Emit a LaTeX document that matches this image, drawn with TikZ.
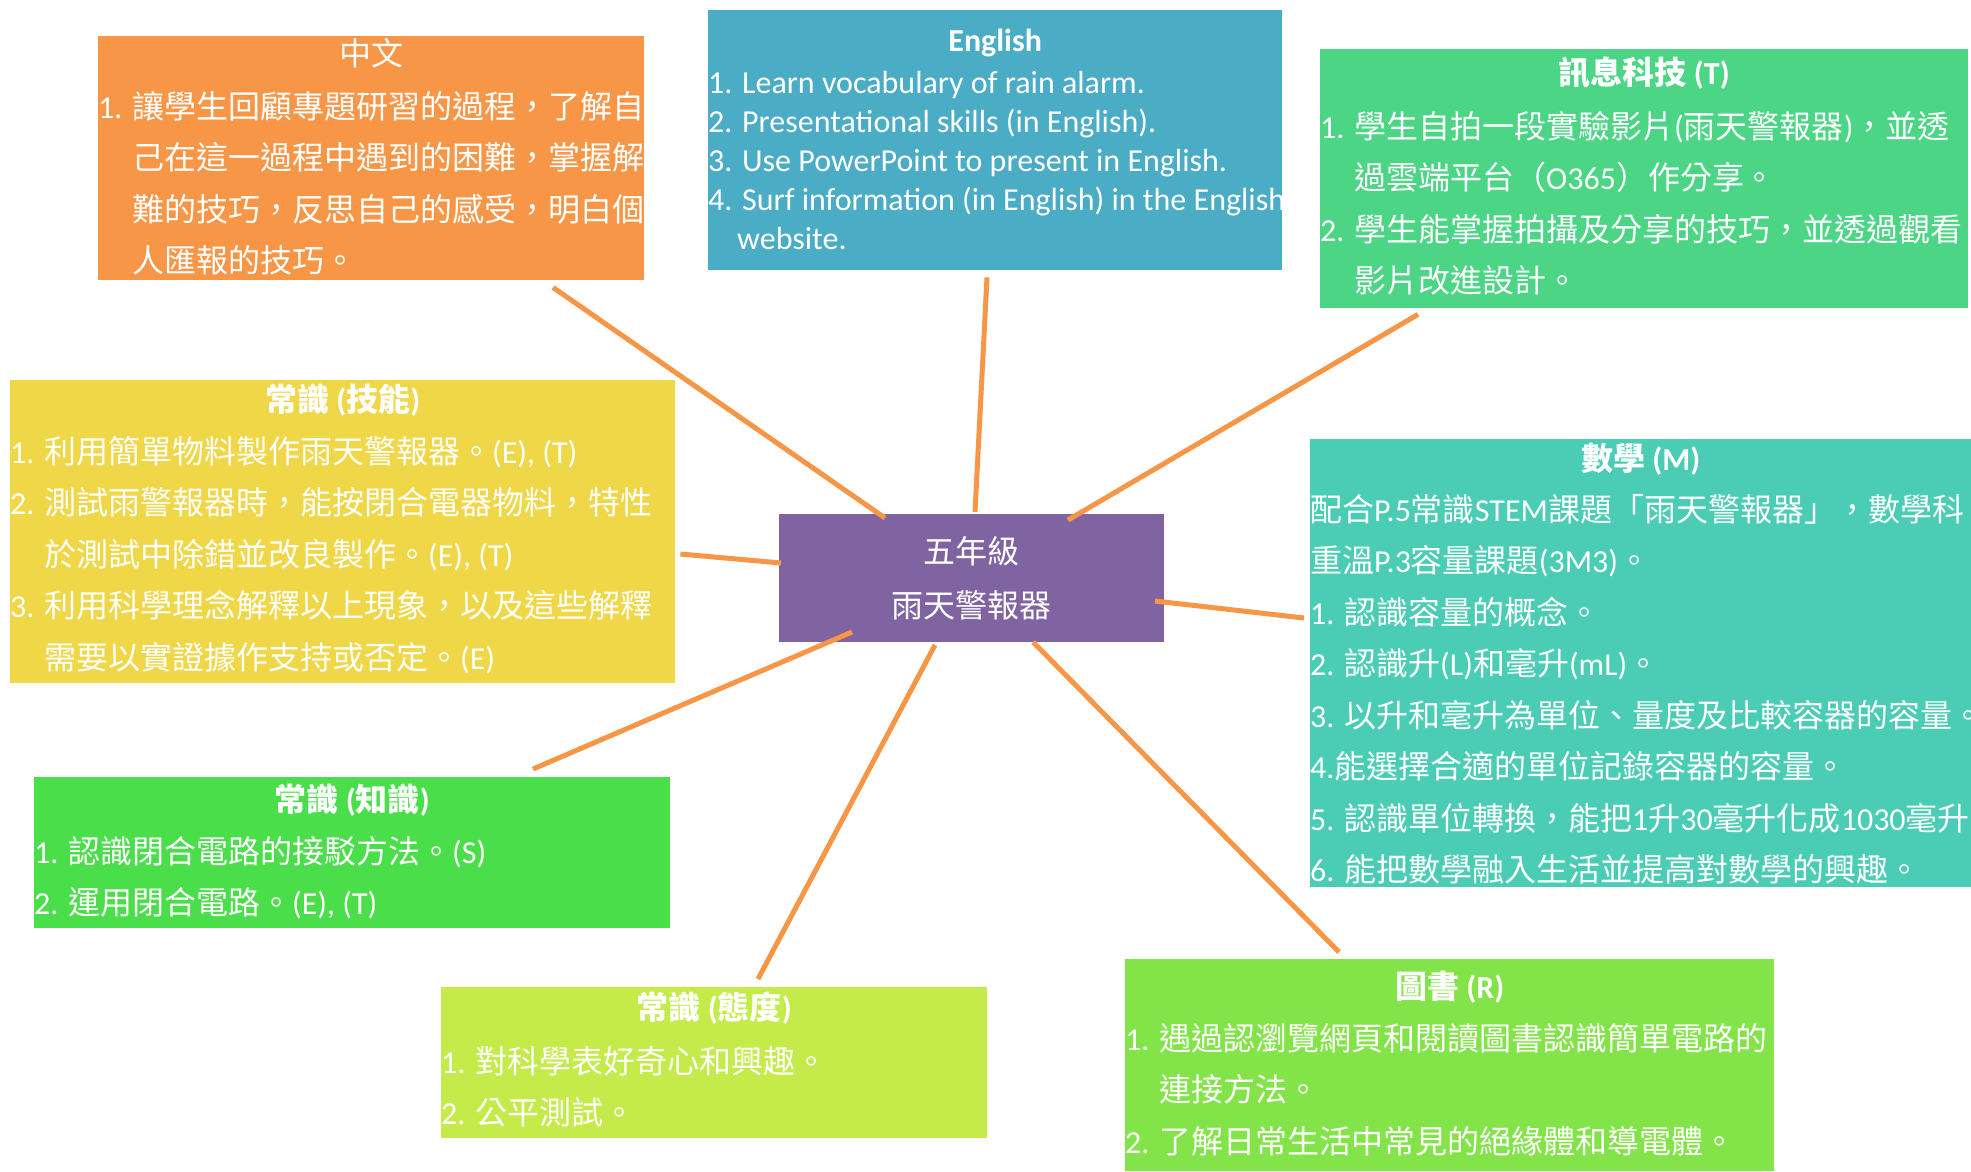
\documentclass[tikz,border=0pt]{standalone}
\usepackage{fontspec}
\setmainfont{Noto Sans CJK TC}
\newfontfamily\latfont{Carlito}
\newcommand\latn[1]{{\latfont #1}}
\newcommand\bodyind{\phantom{\latn{1. }}}
\newcommand\firstl{\rule{0pt}{30pt}}
\usetikzlibrary{calc}
\definecolor{cZW}{HTML}{F79646}
\definecolor{cEN}{HTML}{4BACC6}
\definecolor{cIT}{HTML}{4BD585}
\definecolor{cSK}{HTML}{EFD748}
\definecolor{cMA}{HTML}{4ACDB4}
\definecolor{cKN}{HTML}{4BDE4B}
\definecolor{cAT}{HTML}{C4EB4A}
\definecolor{cLB}{HTML}{83E449}
\definecolor{cCT}{HTML}{8064A2}
\definecolor{cLN}{HTML}{F79646}
\tikzset{
  box/.style={rectangle, inner sep=0pt, anchor=north west, draw=none},
  ttl/.style={text=white, font=\fontsize{32}{38}\selectfont\bfseries, inner sep=0pt, anchor=center},
  body/.style={text=white, font=\fontsize{32}{51.5}\selectfont, inner sep=0pt, anchor=north west, align=left},
  bodyen/.style={text=white, font=\latfont\fontsize{32}{39}\selectfont, inner sep=0pt, anchor=north west, align=left},
  link/.style={draw=cLN, line width=5pt},
}
\begin{document}
\begin{tikzpicture}[x=1pt,y=-1pt]
\useasboundingbox (0,0) rectangle (1971,1171);
\fill[white] (0,0) rectangle (1971,1171);
% boxes
\node[box, fill=cZW, minimum width=546pt, minimum height=244pt] (zw) at (98,36) {};
\node[box, fill=cEN, minimum width=574pt, minimum height=260pt] (en) at (708,10) {};
\node[box, fill=cIT, minimum width=648pt, minimum height=259pt] (it) at (1320,49) {};
\node[box, fill=cSK, minimum width=665pt, minimum height=303pt] (sk) at (10,380) {};
\node[box, fill=cMA, minimum width=661pt, minimum height=448pt] (ma) at (1310,439) {};
\node[box, fill=cKN, minimum width=636pt, minimum height=151pt] (kn) at (34,777) {};
\node[box, fill=cAT, minimum width=546pt, minimum height=151pt] (at) at (441,987) {};
\node[box, fill=cLB, minimum width=649pt, minimum height=212pt] (lb) at (1125,959) {};
\node[box, fill=cCT, minimum width=385pt, minimum height=128pt, text=white, align=center,
      font=\fontsize{32}{54}\selectfont] (ctr) at (779,514) {五年級\\雨天警報器};
% titles
\node[ttl, font=\fontsize{32}{38}\selectfont] (zwt) at ($(zw.north)+(0,17)$) {中文};
\node[ttl, font=\latfont\fontsize{32}{38}\selectfont\bfseries] (ent) at ($(en.north)+(0,33)$) {English};
\node[ttl] (itt) at ($(it.north)+(0,24)$) {訊息科技 \latn{(T)}};
\node[ttl] (skt) at ($(sk.north)+(0,20)$) {常識 \latn{(}技能\latn{)}};
\node[ttl] (mat) at ($(ma.north)+(0,20)$) {數學 \latn{(M)}};
\node[ttl] (knt) at ($(kn.north)+(0,23)$) {常識 \latn{(}知識\latn{)}};
\node[ttl] (att) at ($(at.north)+(0,21)$) {常識 \latn{(}態度\latn{)}};
\node[ttl] (lbt) at ($(lb.north)+(0,28)$) {圖書 \latn{(R)}};
% bodies
\node[body] (zwb) at ($(zw.north west)+(0,52)$) {\firstl\latn{1. }讓學生回顧專題研習的過程，了解自\\
\bodyind 己在這一過程中遇到的困難，掌握解\\
\bodyind 難的技巧，反思自己的感受，明白個\\
\bodyind 人匯報的技巧。};
\node[bodyen] (enb) at ($(en.north west)+(0,53)$) {\firstl 1. Learn vocabulary of rain alarm.\\
2. Presentational skills (in English).\\
3. Use PowerPoint to present in English.\\
4. Surf information (in English) in the English\\
\hspace*{29pt}website.};
\node[body] (itb) at ($(it.north west)+(0,59)$) {\firstl\latn{1. }學生自拍一段實驗影片\latn{(}雨天警報器\latn{)}，並透\\
\bodyind 過雲端平台（\latn{O365}）作分享。\\
\latn{2. }學生能掌握拍攝及分享的技巧，並透過觀看\\
\bodyind 影片改進設計。};
\node[body] (skb) at ($(sk.north west)+(0,53)$) {\firstl\latn{1. }利用簡單物料製作雨天警報器。\latn{(E), (T)}\\
\latn{2. }測試雨警報器時，能按閉合電器物料，特性\\
\bodyind 於測試中除錯並改良製作。\latn{(E), (T)}\\
\latn{3. }利用科學理念解釋以上現象，以及這些解釋\\
\bodyind 需要以實證據作支持或否定。\latn{(E)}};
\node[body] (mab) at ($(ma.north west)+(0,52)$) {\firstl 配合\latn{P.5}常識\latn{STEM}課題「雨天警報器」，數學科\\
重溫\latn{P.3}容量課題\latn{(3M3)}。\\
\latn{1. }認識容量的概念。\\
\latn{2. }認識升\latn{(L)}和毫升\latn{(mL)}。\\
\latn{3. }以升和毫升為單位、量度及比較容器的容量。\\
\latn{4.}能選擇合適的單位記錄容器的容量。\\
\latn{5. }認識單位轉換，能把\latn{1}升\latn{30}毫升化成\latn{1030}毫升\\
\latn{6. }能把數學融入生活並提高對數學的興趣。};
\node[body] (knb) at ($(kn.north west)+(0,56)$) {\firstl\latn{1. }認識閉合電路的接駁方法。\latn{(S)}\\
\latn{2. }運用閉合電路。\latn{(E), (T)}};
\node[body] (atb) at ($(at.north west)+(0,56)$) {\firstl\latn{1. }對科學表好奇心和興趣。\\
\latn{2. }公平測試。};
\node[body] (lbb) at ($(lb.north west)+(0,61)$) {\firstl\latn{1. }遇過認瀏覽網頁和閱讀圖書認識簡單電路的\\
\bodyind 連接方法。\\
\latn{2. }了解日常生活中常見的絕緣體和導電體。};
% connectors
\draw[link] ($(zw.south west)+(455,7)$) -- ($(ctr.north west)+(106,4)$);
\draw[link] ($(en.south west)+(279,7)$) -- ($(ctr.north west)+(196,-2)$);
\draw[link] ($(it.south west)+(98,6)$) -- ($(ctr.north west)+(289,6)$);
\draw[link] ($(sk.north east)+(5,174)$) -- ($(ctr.north west)+(2,49)$);
\draw[link] ($(ma.north west)+(-6,179)$) -- ($(ctr.north west)+(376,87)$);
\draw[link] ($(kn.north west)+(499,-8)$) -- ($(ctr.north west)+(73,118)$);
\draw[link] ($(at.north west)+(317,-8)$) -- ($(ctr.north west)+(156,131)$);
\draw[link] ($(lb.north west)+(214,-7)$) -- ($(ctr.north west)+(254,128)$);
\end{tikzpicture}
\end{document}
